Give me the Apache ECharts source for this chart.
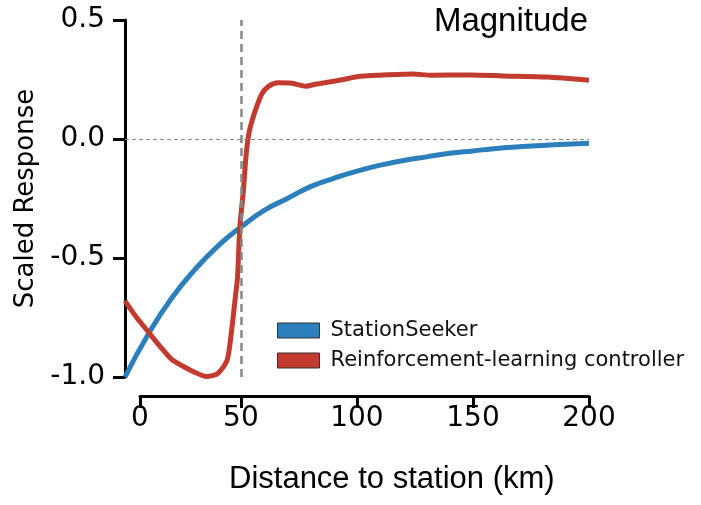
<!DOCTYPE html>
<html>
<head>
<meta charset="utf-8">
<script src="https://cdn.jsdelivr.net/npm/echarts@6/dist/echarts.min.js"></script>
<style>
  html, body { margin: 0; padding: 0; background: #fff; }
  #chart { width: 701px; height: 505px; }
</style>
</head>
<body>
<div id="chart"></div>
<script>
// values
const seekerX = [0, 10, 20, 30, 40, 50, 60, 70, 80, 90, 100, 110, 120, 130, 140, 150, 160, 170, 180, 190, 200]
const seekerY = [-1.0, -0.82, -0.67, -0.55, -0.45, -0.37, -0.30, -0.25, -0.20, -0.165, -0.135, -0.11, -0.09, -0.075, -0.06, -0.05, -0.04, -0.033, -0.027, -0.022, -0.018]

const rlX = [0, 5, 10, 15, 20, 25, 30, 35, 40, 44, 46, 47.5, 48.5, 49.5, 51, 52, 53, 54, 56, 59, 62, 66, 72, 78, 82, 86, 94, 100, 110, 124, 132, 149, 163, 182, 200]
const rlY = [-0.68, -0.75, -0.81, -0.87, -0.925, -0.955, -0.98, -0.998, -0.985, -0.93, -0.80, -0.67, -0.58, -0.37, -0.22, -0.09, 0.0, 0.05, 0.115, 0.19, 0.222, 0.236, 0.234, 0.222, 0.23, 0.236, 0.25, 0.262, 0.268, 0.273, 0.268, 0.269, 0.265, 0.26, 0.247]

// first tick sits a little right of the spine in the original
const xTickValues = [6.5, 50, 100, 150, 200]
const xTickLabels = ['0', '50', '100', '150', '200']
const yTicks = [-1.0, -0.5, 0.0, 0.5]
const stationKm = 50

const blue = '#2b7fbc'
const red = '#c23b2e'

const pairs = (xs, ys) => xs.map((x, i) => [x, ys[i]])

const chart = echarts.init(document.getElementById('chart'))
chart.setOption({
  animation: false,
  title: [
    {
      text: 'Magnitude',
      right: 108,
      top: 0,
      textStyle: { fontFamily: 'Liberation Sans', fontSize: 33, fontWeight: 'normal', color: '#000' }
    },
    {
      text: 'Distance to station (km)',
      left: 229,
      top: 464,
      padding: 0,
      textStyle: { fontFamily: 'Liberation Sans', fontSize: 31, fontWeight: 'normal', color: '#000' }
    }
  ],
  grid: [
    { left: 125, right: 112, top: 20, bottom: 128 },
    { left: 140, right: 112, top: 390, bottom: 109 }
  ],
  legend: {
    orient: 'vertical',
    left: 272,
    top: 315,
    icon: 'rect',
    itemWidth: 42,
    itemHeight: 15,
    itemGap: 9,
    itemStyle: { borderColor: '#333', borderWidth: 1 },
    textStyle: { fontFamily: 'DejaVu Sans', fontSize: 21, color: '#111', padding: [0, 0, 0, 6] },
    data: ['StationSeeker', 'Reinforcement-learning controller']
  },
  xAxis: [
    {
      gridIndex: 0,
      type: 'value',
      min: 0,
      max: 200,
      show: false
    },
    {
      gridIndex: 1,
      type: 'value',
      min: xTickValues[0],
      max: xTickValues[xTickValues.length - 1],
      axisLine: { lineStyle: { color: '#000', width: 3 } },
      axisTick: { customValues: xTickValues, length: 12, lineStyle: { color: '#000', width: 3 } },
      axisLabel: {
        customValues: xTickValues,
        margin: 9,
        fontFamily: 'DejaVu Sans',
        fontSize: 28,
        color: '#000',
        formatter: v => xTickLabels[xTickValues.indexOf(v)]
      },
      splitLine: { show: false }
    }
  ],
  yAxis: [
    {
      gridIndex: 0,
      type: 'value',
      min: yTicks[0],
      max: yTicks[yTicks.length - 1],
      interval: 0.5,
      name: 'Scaled Response',
      nameLocation: 'middle',
      nameRotate: 90,
      nameGap: 81,
      nameTextStyle: { fontFamily: 'DejaVu Sans', fontSize: 26, color: '#000' },
      axisLine: { show: true, lineStyle: { color: '#000', width: 3 } },
      axisTick: { show: true, length: 12, lineStyle: { color: '#000', width: 3 } },
      axisLabel: {
        margin: 20,
        fontFamily: 'DejaVu Sans',
        fontSize: 28,
        color: '#000',
        formatter: v => v.toFixed(1)
      },
      splitLine: { show: false }
    },
    {
      gridIndex: 1,
      type: 'value',
      show: false
    }
  ],
  series: [
    {
      name: 'StationSeeker',
      type: 'line',
      xAxisIndex: 0,
      yAxisIndex: 0,
      data: pairs(seekerX, seekerY),
      smooth: true,
      showSymbol: false,
      color: blue,
      lineStyle: { color: blue, width: 5 },
      z: 3,
      markLine: {
        silent: true,
        symbol: 'none',
        label: { show: false },
        data: [
          { yAxis: 0, lineStyle: { color: '#888', width: 1, type: [4, 3] } },
          { xAxis: stationKm, lineStyle: { color: '#888', width: 2.5, type: [8, 5] } }
        ]
      }
    },
    {
      name: 'Reinforcement-learning controller',
      type: 'line',
      xAxisIndex: 0,
      yAxisIndex: 0,
      data: pairs(rlX, rlY),
      smooth: 0.25,
      showSymbol: false,
      color: red,
      lineStyle: { color: red, width: 5 },
      z: 4
    }
  ]
})
</script>
</body>
</html>
